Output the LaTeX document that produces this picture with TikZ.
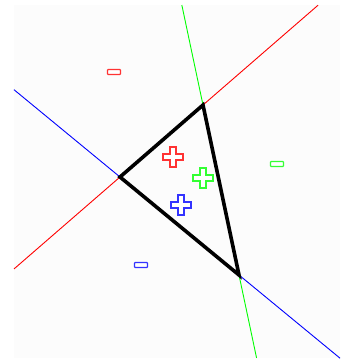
\documentclass[tikz,border=0pt]{standalone}
\usetikzlibrary{calc}
\tikzset{
  plussign/.pic={
    \draw[line width=1.3pt, fill=white] (-3,-10) -- (3,-10) -- (3,-3) -- (10,-3) -- (10,3) -- (3,3)
      -- (3,10) -- (-3,10) -- (-3,3) -- (-10,3) -- (-10,-3) -- (-3,-3) -- cycle;
  },
  minussign/.pic={
    \draw[line width=1.3pt, fill=white, rounded corners=0.8pt] (-6.5,-2.5) rectangle (6.5,2.5);
  }
}
\begin{document}
\begin{tikzpicture}[x=1pt, y=-1pt, line join=miter]
  % Khung nền
  \useasboundingbox (0,0) rectangle (340,361);
  \fill[black!1] (14,5) rectangle (340,358);

  % Các đỉnh tam giác
  \coordinate (A) at (120,177);
  \coordinate (B) at (203,105);
  \coordinate (C) at (239,275);

  % Ba đường thẳng qua các cạnh
  \draw[red, line width=0.9pt] ($(A)!-1.277!(B)$) -- ($(A)!2.386!(B)$);
  \draw[blue, line width=0.9pt] ($(A)!-0.891!(C)$) -- ($(A)!1.849!(C)$);
  \draw[green, line width=0.9pt] ($(B)!-0.588!(C)$) -- ($(B)!1.488!(C)$);

  % Tam giác
  \draw[line width=3.6pt] (A) -- (B) -- (C) -- cycle;

  % Dấu cộng và dấu trừ
  \foreach \c/\px/\py/\mx/\my in {red/173/157/114/72, green/203/178/277/164, blue/181/205/141/265} {
    \pic[\c!80] at (\px,\py) {plussign};
    \pic[\c!80] at (\mx,\my) {minussign};
  }
\end{tikzpicture}
\end{document}
